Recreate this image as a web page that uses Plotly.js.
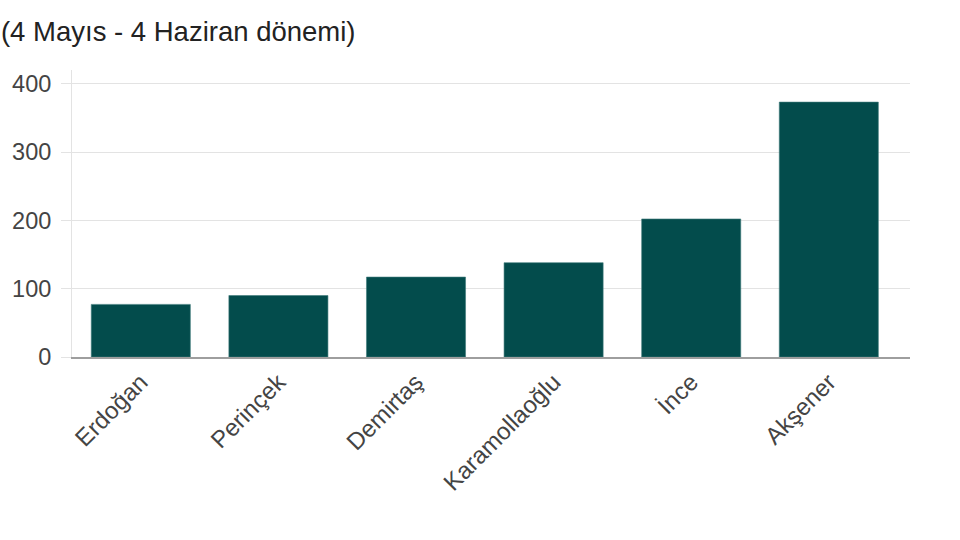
<!DOCTYPE html>
<html>
<head>
<meta charset="utf-8">
<script src="https://cdn.plot.ly/plotly-3.0.1.min.js"></script>
<style>
  html, body { margin: 0; padding: 0; background: #fff; }
  #chart { width: 960px; height: 540px; }
</style>
</head>
<body>
<div id="chart"></div>
<script>
// -----------------------------
// Data
// -----------------------------
const candidates = ["Erdoğan", "Perinçek", "Demirtaş", "Karamollaoğlu", "İnce", "Akşener"];
const counts = [77, 90, 117, 138, 202, 373];
const yTicks = [0, 100, 200, 300, 400];

const chartTitle = "(4 Mayıs - 4 Haziran dönemi)";

// -----------------------------
// Chart
// -----------------------------
const barTrace = {
  type: "bar",
  x: candidates,
  y: counts,
  marker: {
    color: "#034c4c",
    line: { color: "#3f7a7a", width: 0.6 }
  },
  hoverinfo: "x+y"
};

const layout = {
  width: 960,
  height: 540,
  paper_bgcolor: "#fff",
  plot_bgcolor: "#fff",
  margin: { l: 72, r: 50, t: 70, b: 183 },
  font: { family: "Liberation Sans, Arial, sans-serif", size: 23, color: "#444" },
  title: {
    text: chartTitle,
    font: { size: 27.5, color: "#222" },
    xref: "container",
    yref: "container",
    x: 0.001,
    xanchor: "left",
    y: 0.942,
    yanchor: "middle"
  },
  bargap: 0.28,
  showlegend: false,
  xaxis: {
    range: [-0.5, 5.59],
    tickangle: -45,
    tickfont: { size: 24, color: "#444" },
    showline: true,
    linecolor: "#9e9e9e",
    linewidth: 1.5,
    showgrid: false,
    ticks: "",
    fixedrange: true
  },
  yaxis: {
    range: [0, 420],
    tickvals: yTicks,
    ticktext: yTicks.map(String),
    tickfont: { size: 23.5, color: "#444" },
    showgrid: true,
    gridcolor: "#e3e3e3",
    gridwidth: 1,
    zeroline: false,
    showline: true,
    linecolor: "#e3e3e3",
    linewidth: 1,
    ticks: "outside",
    ticklen: 10,
    tickcolor: "#e3e3e3",
    ticklabelstandoff: 5,
    fixedrange: true
  }
};

Plotly.newPlot("chart", [barTrace], layout, { displayModeBar: false, staticPlot: true });
</script>
</body>
</html>
